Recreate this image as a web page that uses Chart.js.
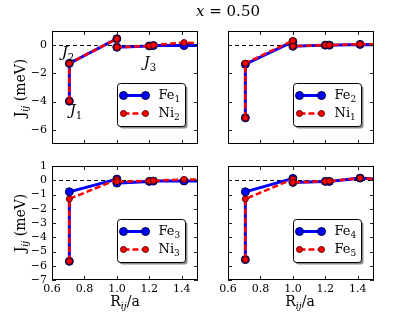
<!DOCTYPE html>
<html>
<head>
<meta charset="utf-8">
<script src="https://cdn.jsdelivr.net/npm/chart.js@4.4.1/dist/chart.umd.min.js"></script>
<style>
  body { margin: 0; width: 415px; height: 312px; background: #fff; position: relative; overflow: hidden; font-family: 'DejaVu Serif', serif; color: #000; }
  canvas { position: absolute; }
  .lbl { position: absolute; white-space: nowrap; transform: translate(-50%, -50%); line-height: 1; }
  .rot { transform: translate(-50%, -50%) rotate(-90deg); }
  .sb { font-size: 68%; position: relative; top: 0.35em; font-style: italic; }
  .ann { font-size: 15px; }
  .ann i { font-style: italic; }
  .ann .sb { font-style: normal; }
  .axt { font-size: 14px; }
</style>
</head>
<body>
<canvas id="p1"></canvas>
<canvas id="p2"></canvas>
<canvas id="p3"></canvas>
<canvas id="p4"></canvas>

<div class="lbl" style="left:228px;top:11px;font-size:15px;"><i>x</i> = 0.50</div>
<div class="lbl axt rot" style="left:20px;top:88px;">J<span class="sb">ij</span> (meV)</div>
<div class="lbl axt rot" style="left:20px;top:223px;">J<span class="sb">ij</span> (meV)</div>
<div class="lbl axt" style="left:125px;top:301px;">R<span class="sb">ij</span>/a</div>
<div class="lbl axt" style="left:300px;top:301px;">R<span class="sb">ij</span>/a</div>
<div class="lbl ann" style="left:68px;top:52px;"><i>J</i><span class="sb">2</span></div>
<div class="lbl ann" style="left:76px;top:110px;"><i>J</i><span class="sb">1</span></div>
<div class="lbl ann" style="left:150px;top:62px;"><i>J</i><span class="sb">3</span></div>

<script>
// neighbour distances R_ij/a (last one lies past the axis edge)
const shells = [0.707, 0.707, 1.0, 1.0, 1.2, 1.225, 1.414, 1.58];

// exchange couplings J_ij (meV)
const fe1 = [-3.97, -1.29, 0.45, -0.15, -0.06, -0.03, -0.03, -0.03];
const ni2 = [-3.97, -1.29, 0.45, -0.15, -0.06, 0.0, 0.18, 0.12];
const fe2 = [-5.15, -1.35, 0.25, -0.08, 0.0, 0.0, 0.05, 0.0];
const ni1 = [-5.15, -1.28, 0.32, -0.08, 0.0, 0.0, 0.07, 0.02];
const fe3 = [-5.69, -0.81, 0.08, -0.2, -0.08, -0.06, -0.05, -0.05];
const ni3 = [-5.69, -1.31, 0.05, -0.1, -0.05, -0.03, 0.06, 0.05];
const fe4 = [-5.57, -0.81, 0.13, -0.15, -0.08, -0.08, 0.15, 0.03];
const fe5 = [-5.57, -1.31, 0.08, -0.15, -0.08, -0.06, 0.15, 0.03];

const xTicks = [0.6, 0.8, 1.0, 1.2, 1.4];
const yTicksTop = [-6, -4, -2, 0];
const yTicksBottom = [-7, -6, -5, -4, -3, -2, -1, 0, 1];

const tickFont = { family: 'DejaVu Serif', size: 11 };

// box, inward ticks and dashed zero line, like the matplotlib frame
const framePlugin = {
    id: 'frame',
    beforeDatasetsDraw(chart) {
        const { ctx, chartArea: a, scales } = chart;
        const y0 = Math.round(scales.y.getPixelForValue(0)) + 0.5;
        ctx.save();
        ctx.strokeStyle = '#000';
        ctx.lineWidth = 1;
        ctx.setLineDash([4, 3]);
        ctx.beginPath();
        ctx.moveTo(a.left, y0);
        ctx.lineTo(a.right, y0);
        ctx.stroke();
        ctx.restore();
    },
    afterDraw(chart) {
        const { ctx, chartArea: a, scales } = chart;
        ctx.save();
        ctx.strokeStyle = '#222';
        ctx.lineWidth = 1;
        ctx.beginPath();
        scales.x.ticks.forEach(t => {
            const px = Math.round(scales.x.getPixelForValue(t.value)) + 0.5;
            ctx.moveTo(px, a.bottom); ctx.lineTo(px, a.bottom - 4);
            ctx.moveTo(px, a.top); ctx.lineTo(px, a.top + 4);
        });
        scales.y.ticks.forEach(t => {
            const py = Math.round(scales.y.getPixelForValue(t.value)) + 0.5;
            ctx.moveTo(a.left, py); ctx.lineTo(a.left + 4, py);
            ctx.moveTo(a.right, py); ctx.lineTo(a.right - 4, py);
        });
        ctx.stroke();
        ctx.strokeStyle = '#000';
        ctx.strokeRect(a.left + 0.5, a.top + 0.5, a.right - a.left - 1, a.bottom - a.top - 1);
        ctx.restore();
    }
};

function roundRect(ctx, x, y, w, h, r) {
    ctx.beginPath();
    ctx.moveTo(x + r, y);
    ctx.arcTo(x + w, y, x + w, y + h, r);
    ctx.arcTo(x + w, y + h, x, y + h, r);
    ctx.arcTo(x, y + h, x, y, r);
    ctx.arcTo(x, y, x + w, y, r);
    ctx.closePath();
}

// legend drawn inside the plot, lower right, with a shadow
const boxLegend = {
    id: 'boxLegend',
    afterDraw(chart) {
        const { ctx, chartArea: a } = chart;
        const w = 68, h = 43;
        const x = Math.round(a.right - 13 - w) + 0.5, y = Math.round(a.bottom - 18 - h) + 0.5;
        ctx.save();
        ctx.fillStyle = 'rgba(0,0,0,0.45)';
        roundRect(ctx, x + 2, y + 2, w, h, 3);
        ctx.fill();
        ctx.fillStyle = '#fff';
        roundRect(ctx, x, y, w, h, 3);
        ctx.fill();
        ctx.strokeStyle = '#000';
        ctx.lineWidth = 1;
        ctx.stroke();
        chart.data.datasets.forEach((ds, i) => {
            const cy = y + 12 + i * 18;
            ctx.strokeStyle = ds.borderColor;
            ctx.lineWidth = ds.borderWidth;
            ctx.setLineDash(ds.borderDash || []);
            ctx.beginPath();
            ctx.moveTo(x + 6, cy);
            ctx.lineTo(x + 28, cy);
            ctx.stroke();
            ctx.setLineDash([]);
            [x + 6, x + 28].forEach(px => {
                ctx.beginPath();
                ctx.arc(px, cy, ds.pointRadius, 0, Math.PI * 2);
                ctx.fillStyle = ds.pointBackgroundColor;
                ctx.fill();
                ctx.lineWidth = 1;
                ctx.strokeStyle = ds.pointBorderColor;
                ctx.stroke();
            });
            const [main, sub] = ds.label.split('_');
            ctx.fillStyle = '#000';
            ctx.textBaseline = 'middle';
            ctx.font = "13px 'DejaVu Serif'";
            ctx.fillText(main, x + 41, cy);
            const mw = ctx.measureText(main).width;
            ctx.font = "9px 'DejaVu Serif'";
            ctx.fillText(sub, x + 41 + mw, cy + 4);
        });
        ctx.restore();
    }
};

function makePanel(id, area, blueLabel, blueVals, redLabel, redVals, yTicks, showX, showY) {
    const padL = 52, padT = 12, padR = 10, padB = 30;
    const cv = document.getElementById(id);
    cv.width = area.w + padL + padR;
    cv.height = area.h + padT + padB;
    cv.style.left = (area.x - padL) + 'px';
    cv.style.top = (area.y - padT) + 'px';

    return new Chart(cv, {
        type: 'line',
        data: {
            datasets: [
                {
                    label: blueLabel,
                    data: shells.map((r, i) => ({ x: r, y: blueVals[i] })),
                    borderColor: '#0000ff',
                    borderWidth: 3,
                    pointRadius: 4,
                    pointBackgroundColor: '#0000ff',
                    pointBorderColor: '#00003a',
                    pointBorderWidth: 1,
                    tension: 0,
                    clip: 0,
                    order: 1,
                },
                {
                    label: redLabel,
                    data: shells.map((r, i) => ({ x: r, y: redVals[i] })),
                    borderColor: '#ff0000',
                    borderWidth: 2.5,
                    borderDash: [6, 3],
                    pointRadius: 3,
                    pointBackgroundColor: '#ff0000',
                    pointBorderColor: '#5a0000',
                    pointBorderWidth: 1,
                    tension: 0,
                    clip: 0,
                    order: 0,
                },
            ],
        },
        options: {
            responsive: false,
            animation: false,
            events: [],
            layout: { padding: { left: 0, top: padT, right: padR, bottom: 0 } },
            plugins: { legend: { display: false }, tooltip: { enabled: false } },
            scales: {
                x: {
                    type: 'linear',
                    min: 0.6,
                    max: 1.5,
                    afterBuildTicks: s => { s.ticks = xTicks.map(v => ({ value: v })); },
                    afterFit: s => { s.height = padB; },
                    grid: { display: false, drawTicks: false },
                    border: { display: false },
                    ticks: { display: showX, padding: 3, autoSkip: false, maxRotation: 0, font: tickFont, color: '#000', callback: v => v.toFixed(1) },
                },
                y: {
                    type: 'linear',
                    min: -7,
                    max: 1,
                    afterBuildTicks: s => { s.ticks = yTicks.map(v => ({ value: v })); },
                    afterFit: s => { s.width = padL; },
                    grid: { display: false, drawTicks: false },
                    border: { display: false },
                    ticks: { display: showY, padding: 5, autoSkip: false, font: tickFont, color: '#000', callback: v => (v < 0 ? '\u2212' + Math.abs(v) : String(v)) },
                },
            },
        },
        plugins: [framePlugin, boxLegend],
    });
}

makePanel('p1', { x: 52, y: 31, w: 146, h: 113 }, 'Fe_1', fe1, 'Ni_2', ni2, yTicksTop, false, true);
makePanel('p2', { x: 228, y: 31, w: 146, h: 113 }, 'Fe_2', fe2, 'Ni_1', ni1, yTicksTop, false, false);
makePanel('p3', { x: 52, y: 166, w: 146, h: 114 }, 'Fe_3', fe3, 'Ni_3', ni3, yTicksBottom, true, true);
makePanel('p4', { x: 228, y: 166, w: 146, h: 114 }, 'Fe_4', fe4, 'Fe_5', fe5, yTicksBottom, true, false);
</script>
</body>
</html>
